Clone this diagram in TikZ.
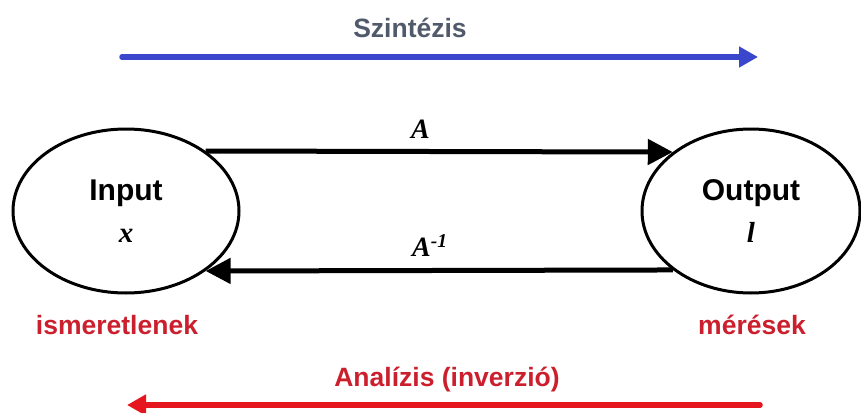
\documentclass[tikz,border=0pt]{standalone}
\usepackage{fontspec}
\setmainfont{Liberation Sans}
\newfontfamily\varfont{Liberation Serif}
\usetikzlibrary{arrows.meta,positioning,shapes.geometric}
\definecolor{synblue}{HTML}{3A46CC}
\definecolor{syngray}{HTML}{505A6A}
\definecolor{anared}{HTML}{E6161E}
\definecolor{labred}{HTML}{CC1F2D}

\begin{document}
\begin{tikzpicture}[x=1pt,y=-1pt,
  every node/.style={font=\bfseries\fontsize{26.5}{30}\selectfont},
  blob/.style={ellipse,draw,line width=3pt,minimum height=164pt,inner sep=0pt,
    align=center,font=\bfseries\fontsize{30}{34}\selectfont},
  var/.style={font=\varfont\bfseries\itshape\fontsize{28}{30}\selectfont},
  arr/.style={-{Triangle[length=25pt,width=25pt]},line width=5pt},
  flow/.style={-{Triangle[length=19pt,width=20pt]},line width=5.5pt,line cap=round}
]
\useasboundingbox (0,0) rectangle (861,412);

% model and data
\node[blob,minimum width=226pt] (inp) at (126,211) {Input\\[8pt]{\varfont\itshape\fontsize{29}{30}\selectfont x}};
\node[blob,minimum width=218pt] (outp) at (751,211) {Output\\[8pt]{\varfont\itshape\fontsize{29}{30}\selectfont l}};
\node[text=labred] (unk) at (117,325) {ismeretlenek};
\node[text=labred] (meas) at (752,325) {mérések};

% forward and inverse operator
\draw[arr] (inp.37) -- node[var,pos=0.46,above=7pt] (fwd) {A} (outp.143);
\draw[arr] (outp.217) -- node[var,pos=0.52,above=8pt] (inv) {A\textsuperscript{-1}} (inp.323);

% direction of synthesis / analysis
\coordinate (synL) at (122,57);
\coordinate (synR) at (758,57);
\draw[flow,synblue] (synL) -- (synR);
\node[text=syngray] (syn) at (410,28) {Szintézis};

\coordinate (anaR) at (760,405);
\coordinate (anaL) at (127,405);
\draw[flow,anared] (anaR) -- (anaL);
\node[text=labred] (ana) at (447,380) {Analízis (inverzió)};
\end{tikzpicture}
\end{document}
